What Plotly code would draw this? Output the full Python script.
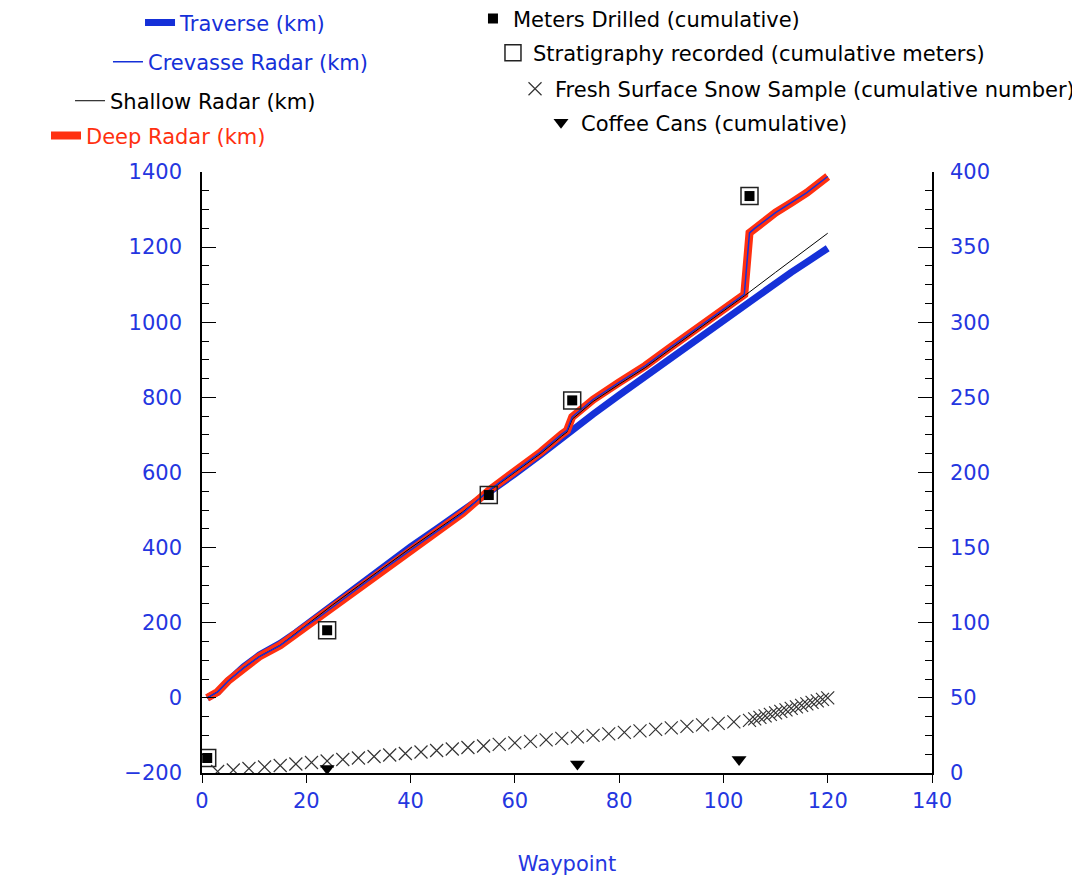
import plotly.graph_objects as go

# ---- data ----
line_wp = [1, 3, 5, 8, 11, 15, 18, 20, 22, 25, 30, 35, 40, 45, 50, 55, 60, 65, 69, 70, 71, 75, 80, 85, 90, 95, 100, 104, 105, 106, 110, 113, 116, 120]
traverse_km = [0, 15, 45, 83, 114, 145, 174, 195, 218, 250, 302, 352, 402, 450, 498, 545, 596, 648, 693, 703, 713, 755, 806, 856, 907, 957, 1007, 1046, 1056, 1066, 1105, 1133, 1160, 1197]
deep_km = [0, 16, 45, 80, 110, 140, 170, 192, 210, 242, 293, 344, 394, 442, 492, 552, 603, 655, 702, 712, 748, 794, 840, 884, 935, 985, 1034, 1074, 1238, 1250, 1292, 1318, 1345, 1388]
crevasse_km = [0, 16, 45, 80, 110, 140, 170, 192, 210, 242, 293, 344, 394, 442, 492, 552, 603, 655, 702, 712, 748, 794, 840, 884, 935, 985, 1034, 1074, 1238, 1250, 1292, 1318, 1345, 1388]
shallow_wp = [1, 3, 5, 8, 11, 15, 18, 20, 22, 25, 30, 35, 40, 45, 50, 55, 60, 65, 69, 70, 71, 75, 80, 85, 90, 95, 100, 104, 110, 115, 120]
shallow_km = [0, 16, 45, 80, 110, 140, 172, 194, 214, 247, 298, 349, 399, 447, 495, 550, 600, 651, 697, 708, 742, 789, 835, 879, 930, 980, 1029, 1070, 1133, 1185, 1237]

drill_wp = [1, 24, 55, 71, 105]
drill_m = [10, 95, 185, 248, 384]

snow_wp = [3, 6, 9, 12, 15, 18, 21, 24, 27, 30, 33, 36, 39, 42, 45, 48, 51, 54, 57, 60, 63, 66, 69, 72, 75, 78, 81, 84, 87, 90, 93, 96, 99, 102,
           105, 106, 107, 108, 109, 110, 111, 112, 113, 114, 115, 116, 117, 118, 119, 120]
snow_n = [1, 2, 3, 4, 5, 6, 7, 8, 9, 10, 11, 12, 13, 14, 15, 16, 17, 18, 19, 20, 21, 22, 23, 24, 25, 26, 27, 28, 29, 30, 31, 32, 33, 34,
          35, 36, 37, 38, 39, 40, 41, 42, 43, 44, 45, 46, 47, 48, 49, 50]

coffee_wp = [24, 72, 103]
coffee_n = [3, 6, 9]

x_ticks = [0, 20, 40, 60, 80, 100, 120, 140]

BLUE = "#1530d8"
TICKBLUE = "#2436e0"
RED = "#ff3010"
FONT = "DejaVu Sans"
FS = 21

fig = go.Figure()

fig.add_trace(go.Scatter(x=line_wp, y=traverse_km, mode="lines", name="Traverse (km)",
                         line=dict(color=BLUE, width=7), legend="legend"))
fig.add_trace(go.Scatter(x=line_wp, y=deep_km, mode="lines", name="Deep Radar (km)",
                         line=dict(color=RED, width=8), legend="legend4"))
fig.add_trace(go.Scatter(x=shallow_wp, y=shallow_km, mode="lines", name="Shallow Radar (km)",
                         line=dict(color="black", width=1), legend="legend3"))
fig.add_trace(go.Scatter(x=line_wp, y=crevasse_km, mode="lines", name="Crevasse Radar (km)",
                         line=dict(color=BLUE, width=1.5), legend="legend2"))

fig.add_trace(go.Scatter(x=drill_wp, y=drill_m, mode="markers", name="Stratigraphy recorded (cumulative meters)",
                         yaxis="y2", marker=dict(symbol="square-open", size=17, color="#222", line=dict(width=1.5)),
                         legend="legend6"))
fig.add_trace(go.Scatter(x=drill_wp, y=drill_m, mode="markers", name="Meters Drilled (cumulative)",
                         yaxis="y2", marker=dict(symbol="square", size=10, color="black"),
                         legend="legend5"))
fig.add_trace(go.Scatter(x=snow_wp, y=snow_n, mode="markers", name="Fresh Surface Snow Sample (cumulative number)",
                         yaxis="y2", marker=dict(symbol="x-thin-open", size=13, color="#333", line=dict(width=1.2, color="#333")),
                         legend="legend7"))
fig.add_trace(go.Scatter(x=coffee_wp, y=coffee_n, mode="markers", name="Coffee Cans (cumulative)",
                         yaxis="y2", marker=dict(symbol="triangle-down", size=13, color="black"),
                         legend="legend8"))

def leg(x, y, color):
    return dict(x=x, y=y, xanchor="left", yanchor="middle", bgcolor="rgba(0,0,0,0)",
                font=dict(family=FONT, size=FS, color=color), itemwidth=30)

fig.update_layout(
    width=1080, height=876,
    margin=dict(l=194, r=156, t=164, b=111, autoexpand=False),
    paper_bgcolor="white", plot_bgcolor="white",
    font=dict(family=FONT, size=FS, color=TICKBLUE),
    legend=leg(-0.0849, 1.248, BLUE),
    legend2=leg(-0.1288, 1.183, BLUE),
    legend3=leg(-0.1808, 1.118, "black"),
    legend4=leg(-0.2137, 1.060, RED),
    legend5=leg(0.3712, 1.255, "black"),
    legend6=leg(0.3986, 1.198, "black"),
    legend7=leg(0.4288, 1.138, "black"),
    legend8=leg(0.4644, 1.082, "black"),
    xaxis=dict(range=[0, 140], tickvals=x_ticks, showline=True, linecolor="black", linewidth=1.5,
               ticks="outside", ticklen=8, tickcolor="black", showgrid=False, zeroline=False,
               tickfont=dict(family=FONT, size=FS, color=TICKBLUE),
               title=dict(text="Waypoint", font=dict(family=FONT, size=FS, color=TICKBLUE), standoff=44)),
    yaxis=dict(range=[-200, 1400], dtick=200, showline=True, linecolor="black", linewidth=1.5,
               ticks="inside", ticklen=14, tickcolor="black", showgrid=False, zeroline=False,
               minor=dict(dtick=50, ticks="inside", ticklen=7, tickcolor="black", showgrid=False),
               tickfont=dict(family=FONT, size=FS, color=TICKBLUE), ticklabelstandoff=14),
    yaxis2=dict(range=[0, 400], dtick=50, overlaying="y", side="right", showline=True, linecolor="black",
                linewidth=1.5, ticks="inside", ticklen=14, tickcolor="black", showgrid=False, zeroline=False,
                minor=dict(dtick=12.5, ticks="inside", ticklen=7, tickcolor="black", showgrid=False),
                tickfont=dict(family=FONT, size=FS, color=TICKBLUE), ticklabelstandoff=12),
    showlegend=True,
)

fig.write_html("out.html")
